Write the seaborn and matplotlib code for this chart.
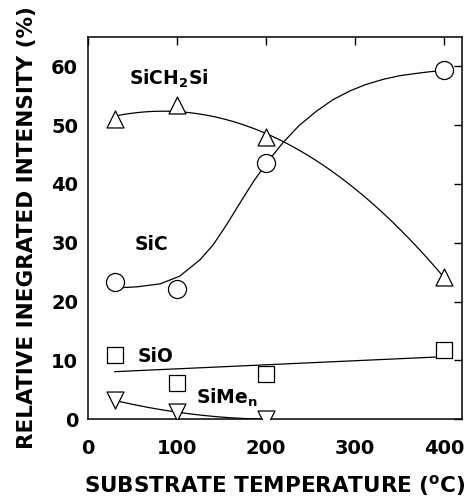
import matplotlib
matplotlib.use("Agg")
import matplotlib.pyplot as plt
import seaborn as sns

# ---- data ----
temps = [30, 100, 200, 400]
sich2si = [51.0, 53.4, 47.9, 24.2]
sic = [23.4, 22.2, 43.6, 59.3]
sio = [10.9, 6.1, 7.7, 11.8]
sime_temps = [30, 100, 200]
sime = [3.2, 1.2, 0.0]

# SiC guide curve
sic_curve_x = [30, 55, 81, 103, 126, 141, 156, 171, 186, 201, 219, 237, 257, 275, 294, 312, 332, 350, 369, 385, 400]
sic_curve_y = [22.3, 22.5, 23.0, 24.3, 27.1, 29.7, 33.1, 36.8, 40.4, 43.6, 47.0, 49.9, 52.4, 54.3, 55.8, 56.9, 57.8, 58.4, 58.8, 59.1, 59.3]

x_ticks = [0, 100, 200, 300, 400]
y_ticks = [0, 10, 20, 30, 40, 50, 60]

sns.set_theme(style="white")
plt.rcParams["font.family"] = ["DejaVu Sans"]
plt.rcParams["font.weight"] = "bold"
plt.rcParams["text.color"] = "black"
plt.rcParams["axes.labelcolor"] = "black"
plt.rcParams["xtick.color"] = "black"
plt.rcParams["ytick.color"] = "black"
plt.rcParams["mathtext.fontset"] = "custom"
plt.rcParams["mathtext.rm"] = "DejaVu Sans:bold"
plt.rcParams["mathtext.it"] = "DejaVu Sans:bold"
plt.rcParams["mathtext.bf"] = "DejaVu Sans:bold"

fig = plt.figure(figsize=(4.67, 4.99), dpi=100)
ax = fig.add_axes([0.188, 0.160, 0.801, 0.766])

line_kw = dict(color="black", lw=0.9)

# fitted guide lines
sns.regplot(x=temps, y=sich2si, order=2, ci=None, scatter=False, truncate=True,
            line_kws=line_kw, ax=ax)
sns.regplot(x=temps, y=sio, order=1, ci=None, scatter=False, truncate=True,
            line_kws=line_kw, ax=ax)
sns.regplot(x=sime_temps, y=sime, order=2, ci=None, scatter=False, truncate=True,
            line_kws=line_kw, ax=ax)
sns.lineplot(x=sic_curve_x, y=sic_curve_y, color="black", lw=0.9, ax=ax,
             estimator=None, sort=False)

mk = dict(facecolor="white", edgecolor="black", linewidth=0.9, zorder=4, ax=ax, legend=False)
sns.scatterplot(x=temps, y=sich2si, marker="^", s=12.2**2, **mk)
sns.scatterplot(x=temps, y=sic, marker="o", s=13**2, **mk)
sns.scatterplot(x=temps, y=sio, marker="s", s=11.6**2, **mk)
sns.scatterplot(x=sime_temps, y=sime, marker="v", s=12.2**2, **mk)

# series labels
tk = dict(fontsize=13.5, fontweight="bold", color="black")
ax.text(91, 56.8, r"SiCH$_2$Si", ha="center", va="baseline", **tk)
ax.text(71.3, 28.8, "SiC", ha="center", va="baseline", **tk)
ax.text(75.8, 9.8, "SiO", ha="center", va="baseline", **tk)
ax.text(122, 2.55, r"SiMe$_\mathrm{n}$", ha="left", va="baseline", **tk)

ax.set_xlim(0, 420)
ax.set_ylim(0, 65)
ax.set_xticks(x_ticks)
ax.set_yticks(y_ticks)
ax.set_xticklabels([str(v) for v in x_ticks], fontsize=14, fontweight="bold")
ax.set_yticklabels([str(v) for v in y_ticks], fontsize=14, fontweight="bold")
ax.tick_params(axis="both", direction="in", length=5.5, width=1.0, color="black",
               top=True, right=True, labeltop=False, labelright=False)
ax.tick_params(axis="x", pad=14)
ax.tick_params(axis="y", pad=7)

for sp in ax.spines.values():
    sp.set_visible(True)
    sp.set_color("black")
    sp.set_linewidth(1.1)

ax.set_xlabel("SUBSTRATE TEMPERATURE ($^\\mathrm{o}$C)", fontsize=15.5, fontweight="bold", labelpad=11)
ax.set_ylabel("RELATIVE INEGRATED INTENSITY (%)", fontsize=15.5, fontweight="bold", labelpad=10)

fig.savefig("out.png", dpi=100)
